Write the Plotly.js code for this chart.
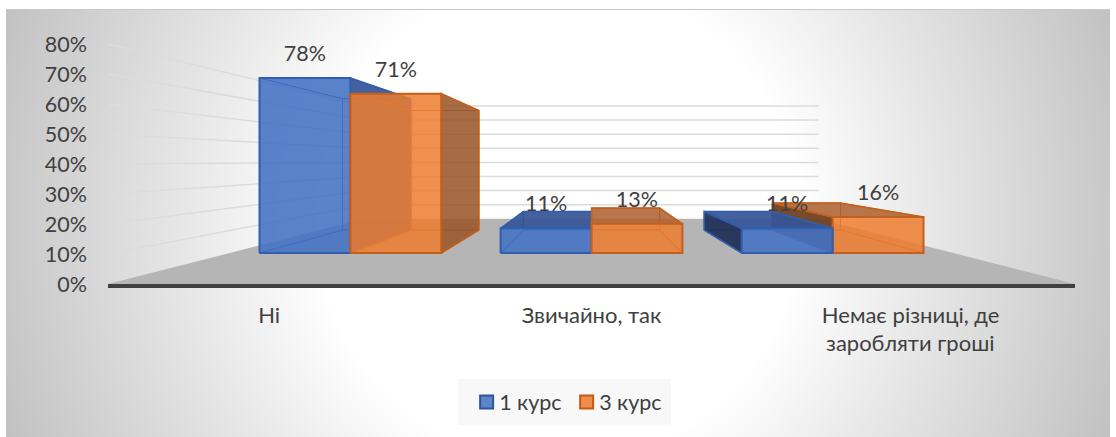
<!DOCTYPE html>
<html><head><meta charset="utf-8">
<script src="https://cdn.plot.ly/plotly-3.0.1.min.js"></script>
<style>
html,body{margin:0;padding:0;background:#fff;width:1116px;height:437px;overflow:hidden}
#bg{position:absolute;left:6px;top:9px;width:1104px;height:428px;border-top:1px solid #c9c9c9;box-sizing:border-box;
background:radial-gradient(circle at 552px 211px,#fff 0,#fff 240px,#e6e6e6 380px,#c9c9c9 550px,#c0c0c0 600px)}
#chart{position:absolute;left:0;top:0;width:1116px;height:437px}
</style></head><body>
<div id="bg"></div><div id="chart"></div>
<script>
const categories = ['Ні', 'Звичайно, так', 'Немає різниці, де'];
const categorySecondLine = ['', '', 'заробляти гроші'];
const labelPositions = [0, 1, 1.99];
const course1 = [78, 11, 11];
const course3 = [71, 13, 16];
const seriesNames = ['1 курс', '3 курс'];
const gridValues = [10, 20, 30, 40, 50, 60, 70, 80];

const FONT = 'Lato, "Open Sans", sans-serif';
const FS = 21.5;
const FSX = 22;
const TEXT = '#404040';
const blue = {front:'rgba(68,114,196,0.87)', edge:'#2f5fae', inner:'rgba(68,114,196,0.10)', top:'rgba(54,84,150,0.92)', right:'rgba(54,84,150,0.92)', left:'rgba(30,46,85,0.92)', swatch:'#5b84cb', swatchEdge:'#2f5597'};
const orange = {front:'rgba(237,125,49,0.84)', edge:'#c55f1b', inner:'rgba(237,125,49,0.10)', top:'rgba(172,96,46,0.85)', right:'rgba(150,85,40,0.85)', left:'rgba(112,66,32,0.95)', swatch:'#f08c4d', swatchEdge:'#c55a11'};

// One-point perspective: depth s shrinks everything towards the vanishing point (cx, vv).
const cx = 1, vv = 41;
const WALL = 0.47, FRONT = 0.748, BACK = 0.561, HALF = 0.377;
const P = (c, v, s) => [cx + (c - cx) * s, vv + (v - vv) * s];

const traces = [];
function poly(points, fill, line, width) {
  traces.push({type:'scatter', mode:'lines', x:points.map(p=>p[0]), y:points.map(p=>p[1]), fill:'toself', fillcolor:fill,
    line:{color:line, width:width}, showlegend:false, hoverinfo:'skip', cliponaxis:false});
}
// floor
poly([P(-0.5,0,1),P(2.5,0,1),P(2.5,0,WALL),P(-0.5,0,WALL),P(-0.5,0,1)],'#b5b5b5','#b5b5b5',0);
// gridlines on side wall and back wall
gridValues.forEach(v=>{
  traces.push({type:'scatter',mode:'lines',x:[P(-0.5,v,1)[0],P(-0.5,v,WALL)[0],P(2.5,v,WALL)[0]],y:[P(-0.5,v,1)[1],P(-0.5,v,WALL)[1],P(2.5,v,WALL)[1]],
    line:{color:'#dcdcdc',width:1.5},showlegend:false,hoverinfo:'skip'});
});
function prism(c0, c1, v, col) {
  const f=(c,h)=>P(c,h,FRONT), b=(c,h)=>P(c,h,BACK);
  const q=(arr)=>arr.concat([arr[0]]);
  const mid=(c0+c1)/2;
  // inner faces
  poly(q([b(c0,0),b(c1,0),b(c1,v),b(c0,v)]),col.inner,col.edge,1);
  poly(q([f(c0,0),f(c1,0),b(c1,0),b(c0,0)]),col.inner,col.edge,1);
  if (mid<cx) poly(q([f(c0,0),f(c0,v),b(c0,v),b(c0,0)]),col.inner,col.edge,1);
  if (mid>cx) poly(q([f(c1,0),f(c1,v),b(c1,v),b(c1,0)]),col.inner,col.edge,1);
  if (v>vv) poly(q([f(c0,v),f(c1,v),b(c1,v),b(c0,v)]),col.inner,col.edge,1);
  // outer faces
  if (mid<cx && Math.abs(c1-cx)>1e-6) poly(q([f(c1,0),f(c1,v),b(c1,v),b(c1,0)]),col.right,col.edge,1.5);
  if (mid>cx && Math.abs(c0-cx)>1e-6) poly(q([f(c0,0),f(c0,v),b(c0,v),b(c0,0)]),col.left,col.edge,1.5);
  if (v<vv) poly(q([f(c0,v),f(c1,v),b(c1,v),b(c0,v)]),col.top,col.edge,1.5);
  poly(q([f(c0,0),f(c1,0),f(c1,v),f(c0,v)]),col.front,col.edge,2);
}
categories.forEach((_,i)=>{
  const drawBlue=()=>prism(i-HALF,i,course1[i],blue), drawOrange=()=>prism(i,i+HALF,course3[i],orange);
  if (i<2){drawBlue();drawOrange();} else {drawOrange();drawBlue();}
});
// data labels
const LIFT = 7.5;
const lx=[],ly=[],lt=[];
categories.forEach((_,i)=>{
  let p=P(i-HALF/2,course1[i],FRONT); lx.push(p[0]);ly.push(p[1]+LIFT);lt.push(course1[i]+'%');
  p=P(i+HALF/2,course3[i],FRONT); lx.push(p[0]);ly.push(p[1]+LIFT);lt.push(course3[i]+'%');
});
traces.push({type:'scatter',mode:'text',x:lx,y:ly,text:lt,textposition:'middle center',textfont:{family:FONT,size:FS,color:TEXT},showlegend:false,hoverinfo:'skip',cliponaxis:false});
// legend entries
[blue,orange].forEach((col,i)=>{
  traces.push({type:'scatter',mode:'markers',x:[null],y:[null],name:seriesNames[i],marker:{symbol:'square',size:13,color:col.swatch,line:{color:col.swatchEdge,width:2}},hoverinfo:'skip'});
});

const layout = {
  width:1116,height:437,
  margin:{l:107.5,r:40.5,t:44,b:153,autoexpand:false},
  paper_bgcolor:'rgba(0,0,0,0)',plot_bgcolor:'rgba(0,0,0,0)',
  font:{family:FONT,size:FS,color:TEXT},
  xaxis:{range:[-0.5,2.5],tickmode:'array',tickvals:labelPositions,ticktext:categories,tickfont:{family:FONT,size:FSX,color:TEXT},showgrid:false,zeroline:false,showline:true,linecolor:'#404040',linewidth:3.5,ticks:'',ticklabelstandoff:9,fixedrange:true},
  yaxis:{range:[0,80],tickmode:'array',tickvals:[0].concat(gridValues),ticktext:[0].concat(gridValues).map(v=>v+'%'),showgrid:false,zeroline:false,showline:false,ticks:'',ticklabelstandoff:20,fixedrange:true},
  showlegend:true,
  legend:{orientation:'h',x:(466.5-107.5)/968,xanchor:'left',y:(284-402)/240,yanchor:'middle',bgcolor:'rgba(0,0,0,0)',borderwidth:0,entrywidthmode:'pixels',entrywidth:55,font:{family:FONT,size:FS,color:TEXT},traceorder:'normal'},
  shapes:[{type:'rect',xref:'paper',yref:'paper',x0:(458-107.5)/968,x1:(671-107.5)/968,y0:(284-425)/240,y1:(284-379)/240,fillcolor:'#f8f8f8',line:{width:0},layer:'below'}],
  annotations:categorySecondLine.map((t,i)=>({text:t,x:labelPositions[i],xref:'x',y:0,yref:'paper',yshift:-58,yanchor:'middle',xanchor:'center',showarrow:false,font:{family:FONT,size:FSX,color:TEXT}})).filter(a=>a.text)
};
Plotly.newPlot('chart',traces,layout,{displayModeBar:false,staticPlot:true}).then(()=>{
  document.querySelectorAll('.legendtext').forEach(t=>t.setAttribute('x','32.5'));
});
</script></body></html>
